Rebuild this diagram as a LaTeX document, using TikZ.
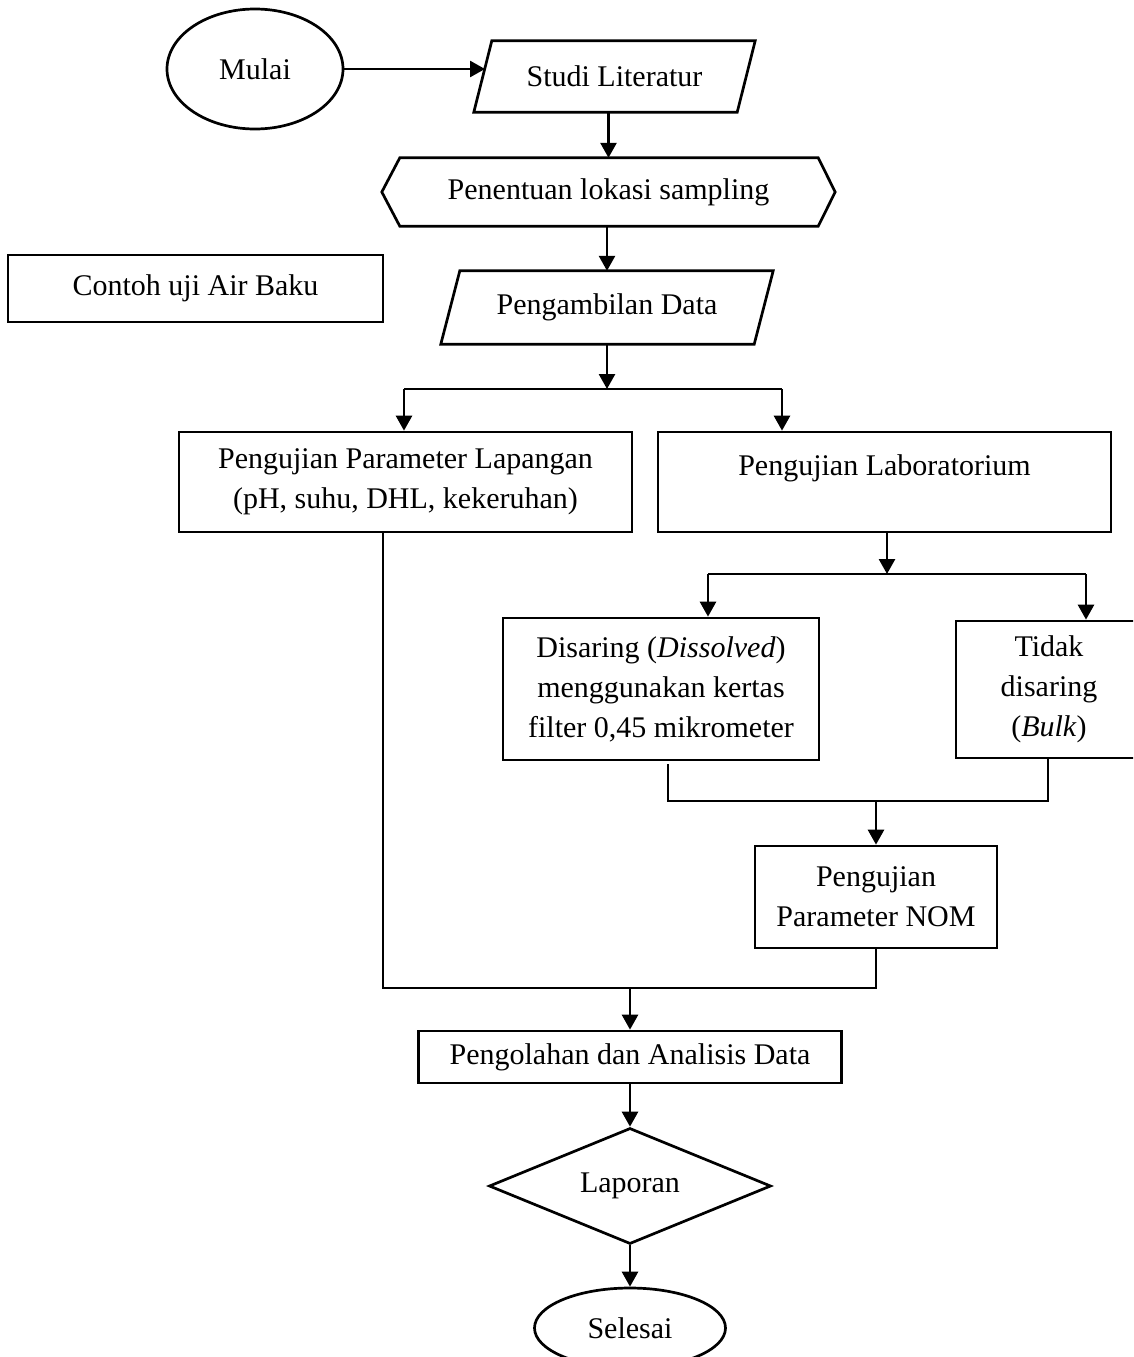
\documentclass[tikz,border=0pt]{standalone}
\usepackage{fontspec}
\setmainfont{Liberation Serif}
\usetikzlibrary{arrows.meta,shapes.geometric}
\begin{document}
\begin{tikzpicture}[x=1pt,y=-1pt,
  every node/.style={font=\fontsize{30}{40}\selectfont, inner sep=0pt, align=center},
  shp/.style={line width=2.7pt, draw=black},
  ghost/.style={draw=none},
  boxnode/.style={draw=black, line width=2.7pt, rectangle},
  arr/.style={line width=2.7pt, -{Triangle[width=16pt,length=15pt]}},
  thk/.style={line width=2.7pt},
  thinl/.style={line width=1.1pt}]
\useasboundingbox (0,0) rectangle (1133,1357);
\clip (0,0) rectangle (1133,1357);

% Mulai
\node[ellipse, draw=black, line width=2.7pt, minimum width=176pt, minimum height=120pt] (mulai) at (255,69) {Mulai};

% Studi Literatur (parallelogram)
\node[ghost, minimum width=281pt, minimum height=71pt] (studi) at (614.5,76.5) {Studi Literatur};
\draw[shp] ([xshift=18pt]studi.north west) -- (studi.north east) -- ([xshift=-18pt]studi.south east) -- (studi.south west) -- cycle;
\coordinate (studiin) at (485,69);

% Penentuan lokasi sampling (hexagon)
\node[ghost, minimum width=453pt, minimum height=68pt] (pen) at (608.5,192) {Penentuan lokasi sampling};
\draw[shp] (pen.west) -- ([xshift=18pt]pen.north west) -- ([xshift=-17pt]pen.north east) -- (pen.east) -- ([xshift=-17pt]pen.south east) -- ([xshift=18pt]pen.south west) -- cycle;

% Contoh uji Air Baku
\node[boxnode, minimum width=375pt, minimum height=67pt] (contoh) at (195.5,288.5) {Contoh uji Air Baku};

% Pengambilan Data (parallelogram)
\node[ghost, minimum width=332pt, minimum height=73pt] (ambil) at (607,307.5) {Pengambilan Data};
\draw[shp] ([xshift=19pt]ambil.north west) -- (ambil.north east) -- ([xshift=-19pt]ambil.south east) -- (ambil.south west) -- cycle;

% Pengujian Parameter Lapangan
\node[boxnode, minimum width=453pt, minimum height=100pt] (lap) at (405.5,482) {Pengujian Parameter Lapangan\\(pH, suhu, DHL, kekeruhan)};

% Pengujian Laboratorium
\node[boxnode, minimum width=453pt, minimum height=100pt] (lab) at (884.5,482) {};
\node (labtext) at ([yshift=14pt]lab.center) {Pengujian Laboratorium};

% Disaring
\node[boxnode, minimum width=316pt, minimum height=142pt] (dis) at (661,689) {Disaring (\textit{Dissolved})\\menggunakan kertas\\filter 0,45 mikrometer};

% Tidak disaring
\node[boxnode, minimum width=186pt, minimum height=137pt] (tidak) at (1049,689.5) {Tidak\\disaring\\(\textit{Bulk})};

% Pengujian Parameter NOM
\node[boxnode, minimum width=242pt, minimum height=102pt] (nom) at (876,897) {Pengujian\\Parameter NOM};

% Pengolahan dan Analisis Data
\node[boxnode, minimum width=423pt, minimum height=52pt] (olah) at (630,1057) {Pengolahan dan Analisis Data};

% Laporan
\node[diamond, draw=black, line width=2.7pt, minimum width=282pt, minimum height=116pt, aspect=2.43] (lapor) at (630,1186) {Laporan};

% Selesai
\node[ellipse, draw=black, line width=2.7pt, minimum width=191pt, minimum height=80pt] (selesai) at (630,1328) {Selesai};

% junction coordinates
\coordinate (s1) at (607,389);
\coordinate (s1l) at (404,389);
\coordinate (s1r) at (782,389);
\coordinate (s2) at (887,574);
\coordinate (s2l) at (708,574);
\coordinate (s2r) at (1086,574);
\coordinate (j1l) at (668,801);
\coordinate (j1r) at (1048,801);
\coordinate (j2l) at (383,988);

% connectors
\draw[arr] (mulai.east |- studiin) -- (studiin);
\draw[arr] (pen.north |- studi.south) -- (pen.north);
\draw[arr] (ambil.north |- pen.south) -- (ambil.north);
\draw[arr] (ambil.south) -- (s1);
\draw[thk] (s1l) -- (s1r);
\draw[arr] (s1l) -- (s1l |- lap.north);
\draw[arr] (s1r) -- (s1r |- lab.north);
\draw[arr] (s2 |- lab.south) -- (s2);
\draw[thk] (s2l) -- (s2r);
\draw[arr] (s2l) -- (s2l |- dis.north);
\draw[arr] (s2r) -- (s2r |- tidak.north);
\draw[thinl] ([yshift=-3pt]j1l |- dis.south) -- (j1l) -- (j1r) -- (j1r |- tidak.south);
\draw[arr] (nom.north |- j1l) -- (nom.north);
\draw[thinl] (j2l |- lap.south) -- (j2l) -- (nom.south |- j2l) -- (nom.south);
\draw[arr] (olah.north |- j2l) -- (olah.north);
\draw[arr] (olah.south) -- (lapor.north);
\draw[arr] (lapor.south) -- (selesai.north);
\end{tikzpicture}
\end{document}
